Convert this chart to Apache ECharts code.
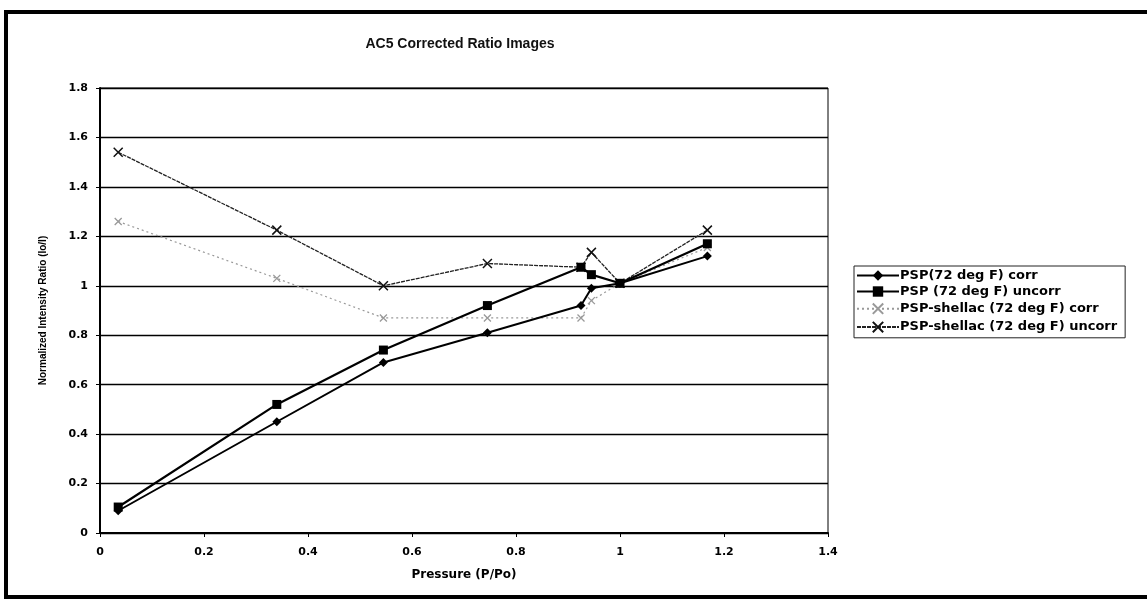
<!DOCTYPE html>
<html>
<head>
<meta charset="utf-8">
<script src="https://cdn.jsdelivr.net/npm/echarts@6/dist/echarts.min.js"></script>
<style>
  html, body { margin: 0; padding: 0; background: #fff; }
  #chart { width: 1147px; height: 600px; }
</style>
</head>
<body>
<div id="chart"></div>
<script>
// pressure ratio P/Po
var pressure = [0.035, 0.34, 0.545, 0.745, 0.925, 0.945, 1.0, 1.168];

// normalized intensity ratio Io/I
var pspCorr = [0.09, 0.45, 0.69, 0.81, 0.92, 0.99, 1.01, 1.12];
var pspUncorr = [0.105, 0.52, 0.74, 0.92, 1.075, 1.045, 1.01, 1.17];
var shellacCorr = [1.26, 1.03, 0.87, 0.87, 0.87, 0.94, 1.01, 1.155];
var shellacUncorr = [1.54, 1.225, 1.0, 1.09, 1.075, 1.135, 1.01, 1.225];

var seriesNames = [
  'PSP(72 deg F) corr',
  'PSP (72 deg F) uncorr',
  'PSP-shellac (72 deg F) corr',
  'PSP-shellac (72 deg F) uncorr'
];

function pairs(ys) {
  return pressure.map(function (x, i) { return [x, ys[i]]; });
}

var myChart = echarts.init(document.getElementById('chart'));

var boldFont = '"DejaVu Sans", Arial, sans-serif';

var option = {
  animation: false,
  backgroundColor: '#fff',
  title: {
    text: 'AC5 Corrected Ratio Images',
    left: 455,
    top: 32,
    textAlign: 'center',
    textStyle: {
      fontFamily: '"Liberation Sans Narrow", "Liberation Sans", Arial, sans-serif',
      fontSize: 14,
      fontWeight: 'bold',
      color: '#111'
    }
  },
  graphic: [{
    type: 'rect',
    shape: { x: 6, y: 12, width: 1160, height: 585 },
    style: { fill: null, stroke: '#000', lineWidth: 4 },
    silent: true
  }],
  legend: {
    orient: 'vertical',
    left: 854,
    top: 266,
    padding: [3, 8, 3, 2],
    itemGap: 3,
    itemWidth: 42,
    itemHeight: 13,
    borderColor: '#222',
    borderWidth: 1,
    textStyle: {
      fontFamily: boldFont,
      fontWeight: 'bold',
      fontSize: 13,
      color: '#000',
      padding: [0, 0, 0, -4]
    },
    data: seriesNames
  },
  grid: {
    left: 100,
    top: 88,
    right: 319,
    bottom: 67,
    show: true,
    borderColor: '#000',
    borderWidth: 1,
    backgroundColor: '#fff'
  },
  xAxis: {
    type: 'value',
    min: 0,
    max: 1.4,
    interval: 0.2,
    name: 'Pressure (P/Po)',
    nameLocation: 'middle',
    nameGap: 36,
    nameTextStyle: {
      fontFamily: boldFont,
      fontWeight: 'bold',
      fontSize: 12,
      color: '#000'
    },
    axisLine: { show: true, onZero: false, lineStyle: { color: '#000', width: 2 } },
    axisTick: { show: true, length: 4, lineStyle: { color: '#000' } },
    splitLine: { show: false },
    axisLabel: {
      margin: 14,
      fontFamily: boldFont,
      fontWeight: 'bold',
      fontSize: 11,
      color: '#000'
    }
  },
  yAxis: {
    type: 'value',
    min: 0,
    max: 1.8,
    interval: 0.2,
    name: 'Normalized Intensity Ratio (Io/I)',
    nameLocation: 'middle',
    nameGap: 52,
    nameTextStyle: {
      fontFamily: '"Liberation Sans Narrow", "Liberation Sans", Arial, sans-serif',
      fontWeight: 'bold',
      fontSize: 10,
      color: '#000'
    },
    axisLine: { show: true, onZero: false, lineStyle: { color: '#000', width: 2 } },
    axisTick: { show: true, length: 4, lineStyle: { color: '#000' } },
    splitLine: { show: true, lineStyle: { color: '#000', width: 1.3 } },
    axisLabel: {
      margin: 12,
      fontFamily: boldFont,
      fontWeight: 'bold',
      fontSize: 11,
      color: '#000'
    }
  },
  series: [
    {
      name: seriesNames[0],
      type: 'line',
      data: pairs(pspCorr),
      symbol: 'diamond',
      symbolSize: 9,
      lineStyle: { color: '#000', width: 2 },
      itemStyle: { color: '#000' },
      z: 4
    },
    {
      name: seriesNames[1],
      type: 'line',
      data: pairs(pspUncorr),
      symbol: 'rect',
      symbolSize: 9,
      lineStyle: { color: '#000', width: 2.2 },
      itemStyle: { color: '#000' },
      z: 4
    },
    {
      name: seriesNames[2],
      type: 'line',
      data: pairs(shellacCorr),
      symbol: 'path://M0,0 L10,10 M10,0 L0,10',
      symbolSize: 7,
      lineStyle: { color: '#999', width: 1.2, type: [2, 3] },
      itemStyle: { color: 'none', borderColor: '#999', borderWidth: 1.3 },
      z: 3
    },
    {
      name: seriesNames[3],
      type: 'line',
      data: pairs(shellacUncorr),
      symbol: 'path://M0,0 L10,10 M10,0 L0,10',
      symbolSize: 9,
      lineStyle: { color: '#222', width: 1.3, type: [4, 1] },
      itemStyle: { color: 'none', borderColor: '#111', borderWidth: 1.5 },
      z: 3
    }
  ]
};

myChart.setOption(option);

window.addEventListener('resize', myChart.resize);
</script>
</body>
</html>
